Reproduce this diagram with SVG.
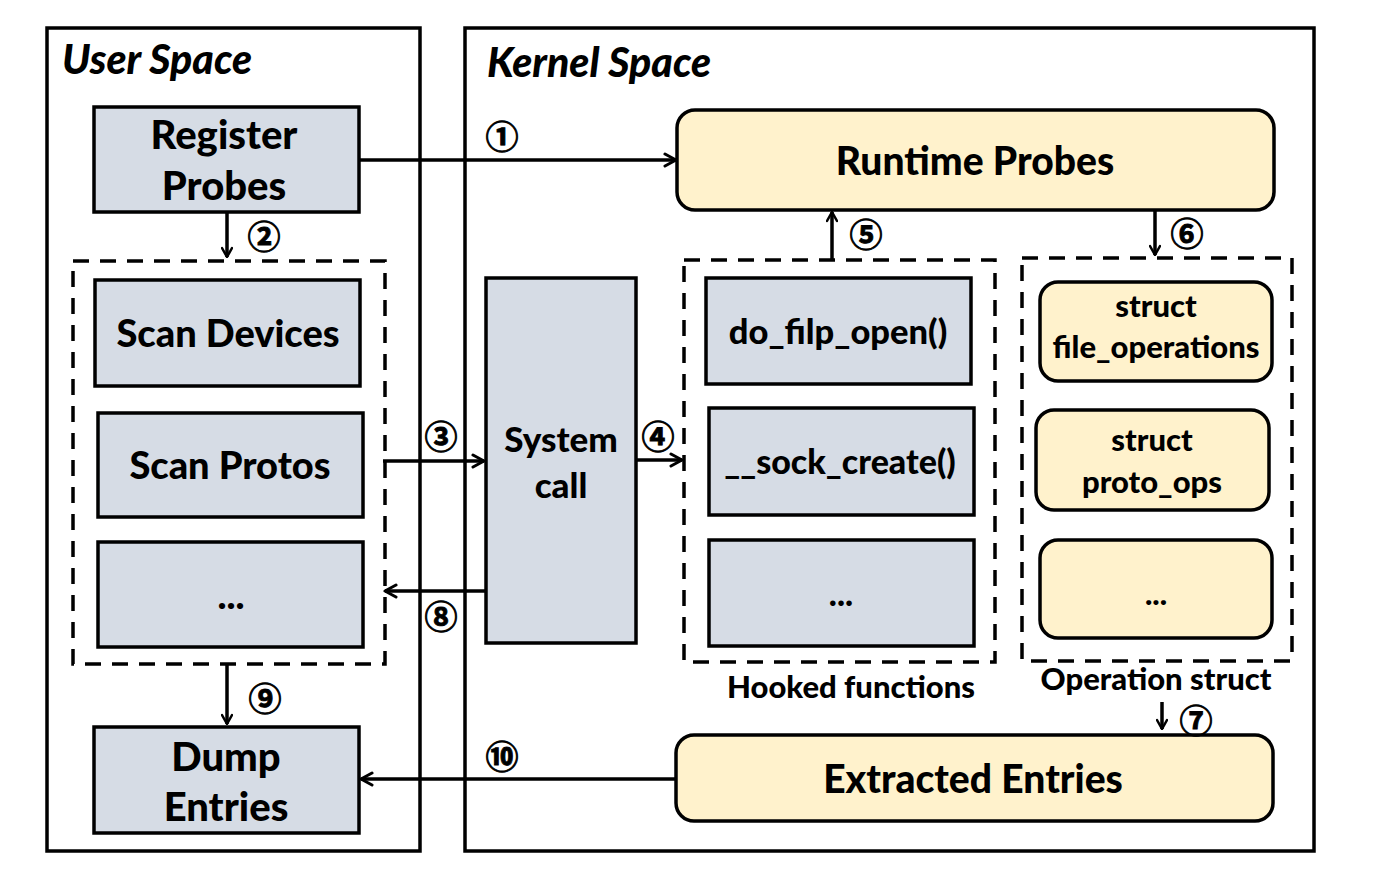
<svg xmlns="http://www.w3.org/2000/svg" width="1376" height="870" viewBox="0 0 1376 870">
<style>
.frame{fill:none;stroke:#000;stroke-width:3.5}
.dash{fill:none;stroke:#000;stroke-width:3.5;stroke-dasharray:16 11}
.gray{fill:#d6dce5;stroke:#000;stroke-width:3.5}
.yel{fill:#fff2cc;stroke:#000;stroke-width:3.5}
.t{font-family:Lato,"Open Sans",sans-serif;font-weight:900;fill:#000;text-anchor:middle}
.title{font-family:Lato,"Open Sans",sans-serif;font-weight:900;font-style:italic;font-size:41px;fill:#000}
.num{font-family:"Noto Sans CJK SC","DejaVu Serif",serif;font-weight:bold;font-size:33px;fill:#000;stroke:#000;stroke-width:0.9;text-anchor:middle}
.c{fill:none;stroke:#000;stroke-width:3.5}
</style>
<defs>
<marker id="ah" viewBox="0 0 12 12" refX="11" refY="6" markerWidth="12" markerHeight="12" markerUnits="userSpaceOnUse" orient="auto">
<path d="M2,1 L11,6 L2,11" fill="none" stroke="#000" stroke-width="2.5" stroke-linecap="round" stroke-linejoin="round"/>
</marker>
<marker id="ah2" viewBox="0 0 16 16" refX="14" refY="8" markerWidth="16" markerHeight="16" markerUnits="userSpaceOnUse" orient="auto">
<path d="M3,2 L14,8 L3,14" fill="none" stroke="#000" stroke-width="3" stroke-linecap="round" stroke-linejoin="round"/>
</marker>
</defs>

<g id="user-space">
<rect class="frame" x="47" y="28" width="373" height="823"/>
<text class="title" x="62" y="74">User Space</text>
</g>
<g id="kernel-space">
<rect class="frame" x="465" y="28" width="849" height="823"/>
<text class="title" x="487" y="77">Kernel Space</text>
</g>

<g id="scan-group"><rect class="dash" x="73" y="261" width="312" height="403"/></g>
<g id="hooked-group">
<rect class="dash" x="684" y="260" width="311" height="402"/>
<text class="t" x="851" y="698" font-size="31">Hooked functions</text>
</g>
<g id="opstruct-group">
<rect class="dash" x="1022" y="258" width="270" height="403"/>
<text class="t" x="1156" y="690" font-size="31">Operation struct</text>
</g>

<g id="register-probes">
<rect class="gray" x="94" y="107" width="265" height="105"/>
<text class="t" x="224" y="149" font-size="40">Register</text>
<text class="t" x="224" y="200" font-size="40">Probes</text>
</g>
<g id="scan-devices">
<rect class="gray" x="95" y="280" width="265" height="106"/>
<text class="t" x="228" y="347" font-size="38">Scan Devices</text>
</g>
<g id="scan-protos">
<rect class="gray" x="98" y="413" width="265" height="104"/>
<text class="t" x="230" y="479" font-size="38">Scan Protos</text>
</g>
<g id="scan-more">
<rect class="gray" x="98" y="542" width="265" height="105"/>
<text class="t" x="231" y="609" font-size="38">...</text>
</g>
<g id="dump-entries">
<rect class="gray" x="94" y="727" width="265" height="106"/>
<text class="t" x="226" y="771" font-size="40">Dump</text>
<text class="t" x="226" y="821" font-size="40">Entries</text>
</g>
<g id="system-call">
<rect class="gray" x="486" y="278" width="150" height="365"/>
<text class="t" x="561" y="452" font-size="35">System</text>
<text class="t" x="561" y="498" font-size="35">call</text>
</g>
<g id="runtime-probes">
<rect class="yel" x="677" y="110" width="597" height="100" rx="18"/>
<text class="t" x="975" y="175" font-size="39">Runtime Probes</text>
</g>
<g id="do-filp-open">
<rect class="gray" x="706" y="278" width="265" height="106"/>
<text class="t" x="838" y="344" font-size="34.5">do_filp_open()</text>
</g>
<g id="sock-create">
<rect class="gray" x="709" y="408" width="265" height="107"/>
<text class="t" x="840" y="474" font-size="34">__sock_create()</text>
</g>
<g id="hooked-more">
<rect class="gray" x="709" y="540" width="265" height="106"/>
<text class="t" x="841" y="606" font-size="34">...</text>
</g>
<g id="file-operations">
<rect class="yel" x="1040" y="282" width="232" height="99" rx="18"/>
<text class="t" x="1156" y="317" font-size="31">struct</text>
<text class="t" x="1156" y="358" font-size="31">file_operations</text>
</g>
<g id="proto-ops">
<rect class="yel" x="1036" y="410" width="233" height="100" rx="18"/>
<text class="t" x="1152" y="451" font-size="31">struct</text>
<text class="t" x="1152" y="493" font-size="31">proto_ops</text>
</g>
<g id="ops-more">
<rect class="yel" x="1040" y="540" width="232" height="98" rx="18"/>
<text class="t" x="1156" y="605" font-size="31">...</text>
</g>
<g id="extracted-entries">
<rect class="yel" x="676" y="735" width="597" height="86" rx="18"/>
<text class="t" x="973" y="793" font-size="39">Extracted Entries</text>
</g>

<g id="connectors">
<line class="c" x1="359" y1="160" x2="676" y2="160" marker-end="url(#ah2)"/>
<line class="c" x1="227" y1="212" x2="227" y2="257" marker-end="url(#ah)"/>
<line class="c" x1="383" y1="461" x2="484" y2="461" marker-end="url(#ah2)"/>
<line class="c" x1="636" y1="460" x2="682" y2="460" marker-end="url(#ah2)"/>
<line class="c" x1="832" y1="259" x2="832" y2="212" marker-end="url(#ah)"/>
<line class="c" x1="1155" y1="210" x2="1155" y2="255" marker-end="url(#ah)"/>
<line class="c" x1="1162" y1="702" x2="1162" y2="729" marker-end="url(#ah)"/>
<line class="c" x1="486" y1="591" x2="385" y2="591" marker-end="url(#ah2)"/>
<line class="c" x1="227" y1="665" x2="227" y2="724" marker-end="url(#ah)"/>
<line class="c" x1="676" y1="779" x2="361" y2="779" marker-end="url(#ah2)"/>
<text class="num" x="502" y="149">①</text>
<text class="num" x="264" y="249">②</text>
<text class="num" x="441" y="449">③</text>
<text class="num" x="658" y="449">④</text>
<text class="num" x="866" y="247">⑤</text>
<text class="num" x="1187" y="246">⑥</text>
<text class="num" x="1196" y="733" font-size="28">⑦</text>
<text class="num" x="441" y="629">⑧</text>
<text class="num" x="265" y="711">⑨</text>
<text class="num" x="502" y="769">⑩</text>
</g>
</svg>
